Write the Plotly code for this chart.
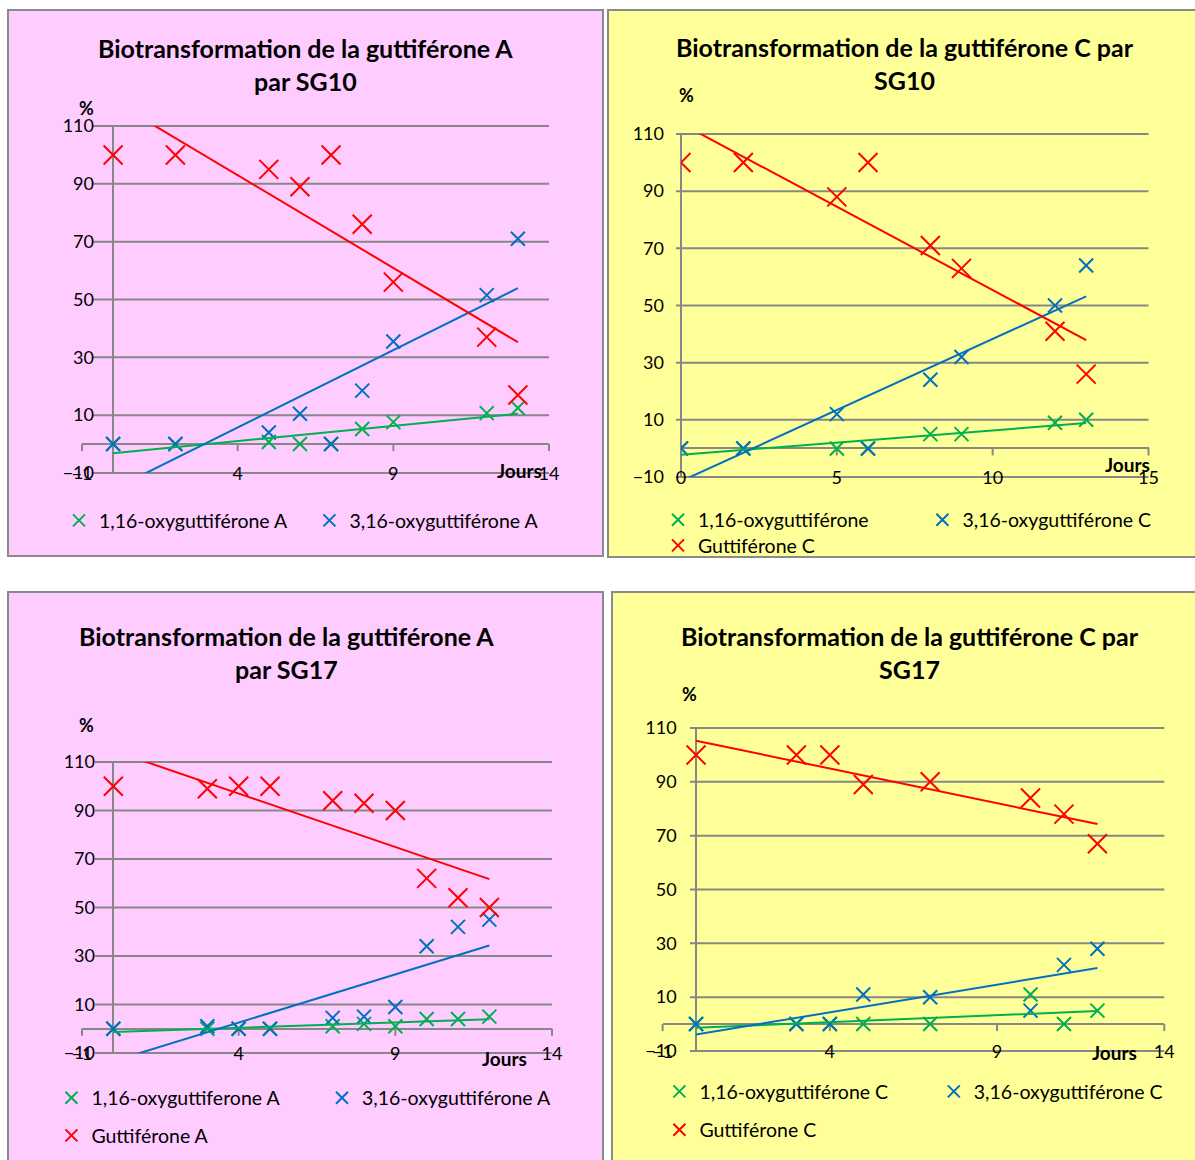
import numpy as np
import plotly.graph_objects as go

# ---------------- data ----------------
DAYS_A10 = [0, 2, 5, 6, 7, 8, 9, 12, 13]
OXY116_A10 = [0, 0, 0.7, 0, 0, 5.2, 7.6, 10.7, 12.5]
OXY316_A10 = [0, 0, 4, 10.5, 0, 18.5, 35.5, 51.5, 71]
GUTTI_A10 = [100, 100, 95, 89, 100, 76, 56, 37, 17]

DAYS_C10 = [0, 2, 5, 6, 8, 9, 12, 13]
OXY116_C10 = [0, 0, 0, 0, 5, 5, 9, 10]
OXY316_C10 = [0, 0, 12, 0, 24, 32, 50, 64]
GUTTI_C10 = [100, 100, 88, 100, 71, 63, 41, 26]

DAYS_A17 = [0, 3, 4, 5, 7, 8, 9, 10, 11, 12]
OXY116_A17 = [0, 0, 0, 0, 1, 2, 1, 4, 4, 5]
OXY316_A17 = [0, 1, 0, 0, 4.5, 5, 9, 34, 42, 45]
GUTTI_A17 = [100, 99, 100, 100, 94, 93, 90, 62, 54, 50]

DAYS_C17 = [0, 3, 4, 5, 7, 10, 11, 12]
OXY116_C17 = [0, 0, 0, 0, 0, 11, 0, 5]
OXY316_C17 = [0, 0, 0, 11, 10, 5, 22, 28]
GUTTI_C17 = [100, 100, 100, 89, 90, 84, 78, 67]

Y_TICKS = [-10, 10, 30, 50, 70, 90, 110]
X_TICKS_A10 = [-1, 4, 9, 14]
X_TICKS_C10 = [0, 5, 10, 15]
X_TICKS_A17 = [-1, 4, 9, 14]
X_TICKS_C17 = [-1, 4, 9, 14]

TITLES = [
    "Biotransformation de la guttiférone A<br>par SG10",
    "Biotransformation de la guttiférone C par<br>SG10",
    "Biotransformation de la guttiférone A<br>par SG17",
    "Biotransformation de la guttiférone C par<br>SG17",
]
NAMES_A10 = ["1,16-oxyguttiférone A", "3,16-oxyguttiférone A", "Guttiférone A"]
NAMES_C10 = ["1,16-oxyguttiférone", "3,16-oxyguttiférone C", "Guttiférone C"]
NAMES_A17 = ["1,16-oxyguttiferone A", "3,16-oxyguttiférone A", "Guttiférone A"]
NAMES_C17 = ["1,16-oxyguttiférone C", "3,16-oxyguttiférone C", "Guttiférone C"]
X_LABEL = "Jours"
Y_LABEL = "%"

# ---------------- styles / layout geometry (pixels) ----------------
W, H = 1195, 1160
FONT = "Lato"
GRID = "#878787"
PINK = "#FFCCFF"
YELLOW = "#FFFF99"
GREEN, BLUE, RED = "#00B050", "#0070C0", "#FF0000"
COLORS = [GREEN, BLUE, RED]
MSIZE = [14, 14, 19]
YMIN, YMAX = -10, 110
LEG_TEXT_OFFSET = 40   # legend: text start relative to legend box left
LEG_STRIDE_EXTRA = 45  # legend: item stride = entrywidth + this

PANELS = [
    dict(days=DAYS_A10, vals=[OXY116_A10, OXY316_A10, GUTTI_A10], names=NAMES_A10,
         xticks=X_TICKS_A10, box=(8, 10, 603, 556), bg=PINK,
         xpx=(82, 549), ypx=(126, 473), grid_x0=93, ylab_right=92,
         title=(305, 65), pct=(86, 108), jours=(519, 470),
         legends=[(99, 520.7, [0, 1], 349.4)], hidden=[2]),
    dict(days=DAYS_C10, vals=[OXY116_C10, OXY316_C10, GUTTI_C10], names=NAMES_C10,
         xticks=X_TICKS_C10, box=(608, 10, 1260, 557), bg=YELLOW,
         xpx=(681, 1148.5), ypx=(134, 477), grid_x0=676, ylab_right=662,
         title=(905, 63.4), pct=(686, 95), jours=(1127, 464),
         legends=[(698, 520, [0, 1], 962.4), (698, 545.7, [2], None)], hidden=[]),
    dict(days=DAYS_A17, vals=[OXY116_A17, OXY316_A17, GUTTI_A17], names=NAMES_A17,
         xticks=X_TICKS_A17, box=(8, 592, 603, 1230), bg=PINK,
         xpx=(82, 552), ypx=(762, 1053), grid_x0=95, ylab_right=93,
         title=(286, 652), pct=(86, 725), jours=(504, 1058),
         legends=[(91.4, 1098, [0, 1], 362), (91.4, 1135.7, [2], None)], hidden=[]),
    dict(days=DAYS_C17, vals=[OXY116_C17, OXY316_C17, GUTTI_C17], names=NAMES_C17,
         xticks=X_TICKS_C17, box=(612, 592, 1260, 1230), bg=YELLOW,
         xpx=(662.6, 1164.3), ypx=(728, 1051), grid_x0=690, ylab_right=675,
         title=(910, 652), pct=(690, 694), jours=(1114, 1052.7),
         legends=[(699.4, 1091.7, [0, 1], 973.8), (699.4, 1130, [2], None)], hidden=[]),
]

fig = go.Figure()
shapes, annotations, layout = [], [], {}
legend_count = 0

for i, p in enumerate(PANELS):
    n = "" if i == 0 else str(i + 1)
    xr = [p["xticks"][0], p["xticks"][-1]]
    # panel background
    x0, y0, x1, y1 = p["box"]
    shapes.append(dict(type="rect", xref="paper", yref="paper", x0=x0 / W, x1=x1 / W,
                       y0=1 - y1 / H, y1=1 - y0 / H, fillcolor=p["bg"],
                       line=dict(color="#8A8A8A", width=2), layer="below"))
    # horizontal gridlines (from tick values)
    gx0 = (p["grid_x0"] - p["xpx"][0]) / (p["xpx"][1] - p["xpx"][0])
    for v in Y_TICKS:
        f = (v - YMIN) / (YMAX - YMIN)
        shapes.append(dict(type="line", xref=f"x{n} domain", yref=f"y{n} domain",
                           x0=gx0, x1=1, y0=f, y1=f, line=dict(color=GRID, width=2),
                           layer="below"))
    # x tick marks on the axis line at y = 0
    fz = (0 - YMIN) / (YMAX - YMIN)
    for t in p["xticks"]:
        fx = (t - xr[0]) / (xr[1] - xr[0])
        shapes.append(dict(type="line", xref=f"x{n} domain", yref=f"y{n} domain",
                           ysizemode="pixel", yanchor=fz, x0=fx, x1=fx, y0=0, y1=-7,
                           line=dict(color=GRID, width=2), layer="below"))

    # legends for this panel
    row_legends = {}
    for (tx, ty, members, tx2) in p["legends"]:
        legend_count += 1
        lname = "legend" if legend_count == 1 else f"legend{legend_count}"
        leg = dict(orientation="h", x=(tx - LEG_TEXT_OFFSET) / W, y=1 - ty / H,
                   xanchor="left", yanchor="middle", bgcolor="rgba(0,0,0,0)",
                   borderwidth=0, itemsizing="constant",
                   font=dict(family=FONT, size=19.5, color="black"))
        if tx2 is not None:
            leg["entrywidth"] = tx2 - tx - LEG_STRIDE_EXTRA
            leg["entrywidthmode"] = "pixels"
        layout[lname] = leg
        for m in members:
            row_legends[m] = lname

    # markers
    for k in range(3):
        fig.add_trace(go.Scatter(
            x=p["days"], y=p["vals"][k], mode="markers", name=p["names"][k],
            xaxis="x" + n, yaxis="y" + n,
            marker=dict(symbol="x-thin", size=MSIZE[k], color=COLORS[k],
                        line=dict(color=COLORS[k], width=2)),
            showlegend=k not in p["hidden"],
            legend=row_legends.get(k, "legend"), hoverinfo="skip"))
    # linear trendlines computed from the data
    for k in range(3):
        slope, icpt = np.polyfit(p["days"], p["vals"][k], 1)
        xs = np.array([min(p["days"]), max(p["days"])], dtype=float)
        fig.add_trace(go.Scatter(
            x=xs, y=slope * xs + icpt, mode="lines", xaxis="x" + n, yaxis="y" + n,
            line=dict(color=COLORS[k], width=2), showlegend=False, hoverinfo="skip"))

    layout["xaxis" + n] = dict(
        domain=[p["xpx"][0] / W, p["xpx"][1] / W], range=xr, tickvals=p["xticks"],
        showgrid=False, zeroline=True, zerolinecolor=GRID, zerolinewidth=2,
        showline=False, ticks="", anchor="y" + n, fixedrange=True,
        tickfont=dict(family=FONT, size=18, color="black"), ticklabelstandoff=-12)
    layout["yaxis" + n] = dict(
        domain=[1 - p["ypx"][1] / H, 1 - p["ypx"][0] / H], range=[YMIN, YMAX],
        tickvals=Y_TICKS, showgrid=False, zeroline=True, zerolinecolor=GRID,
        zerolinewidth=2, showline=False, ticks="", anchor="x" + n, fixedrange=True,
        tickfont=dict(family=FONT, size=18, color="black"),
        ticklabelstandoff=int(round(p["xpx"][0] - p["ylab_right"])) - 3)

    tx_, ty_ = p["title"]
    annotations.append(dict(text="<b>" + TITLES[i].replace("<br>", "</b><br><b>") + "</b>",
                            x=tx_ / W, y=1 - ty_ / H, xref="paper", yref="paper",
                            xanchor="center", yanchor="middle", showarrow=False,
                            font=dict(family=FONT, size=25, color="black")))
    annotations.append(dict(text="<b>" + Y_LABEL + "</b>", x=p["pct"][0] / W, y=1 - p["pct"][1] / H,
                            xref="paper", yref="paper", xanchor="center", yanchor="middle",
                            showarrow=False, font=dict(family=FONT, size=18, color="black")))
    annotations.append(dict(text="<b>" + X_LABEL + "</b>", x=p["jours"][0] / W, y=1 - p["jours"][1] / H,
                            xref="paper", yref="paper", xanchor="center", yanchor="middle",
                            showarrow=False, font=dict(family=FONT, size=19, color="black")))

fig.update_layout(width=W, height=H, margin=dict(l=0, r=0, t=0, b=0, autoexpand=False),
                  autosize=False, paper_bgcolor="white", plot_bgcolor="rgba(0,0,0,0)",
                  font=dict(family=FONT, color="black"), hovermode=False,
                  shapes=shapes, annotations=annotations, **layout)

fig.write_html("out.html", config={"displayModeBar": False},
               post_script="document.body.style.margin='0';document.body.style.overflow='hidden';")
